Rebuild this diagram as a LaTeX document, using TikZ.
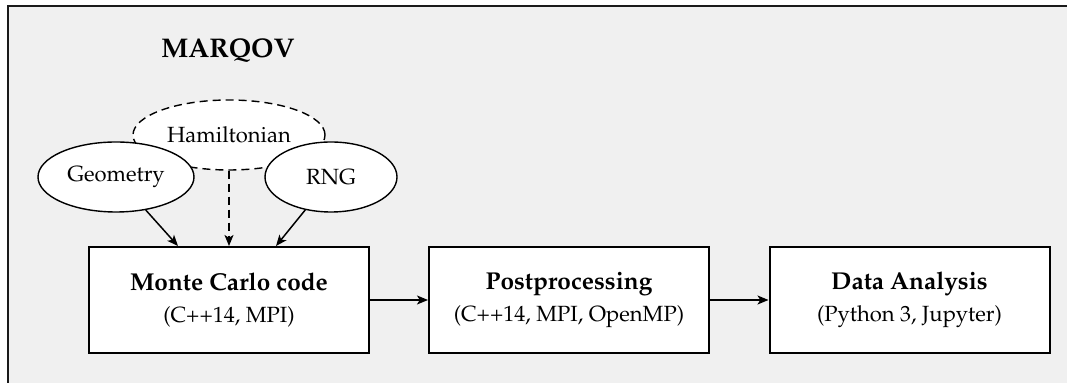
\documentclass[tikz,border=0pt]{standalone}
\usepackage[T1]{fontenc}
\usepackage{mathpazo}
\usetikzlibrary{shapes.geometric,arrows.meta,calc}
\definecolor{bggray}{HTML}{F0F0F0}
\definecolor{framegray}{HTML}{1A1A1A}
\tikzset{
  every node/.style={font=\fontsize{11}{13}\selectfont},
  ell/.style={ellipse,draw=black,fill=white,line width=0.7pt,inner sep=0pt,minimum height=35pt},
  stagebox/.style={rectangle,draw=black,fill=white,line width=1pt,minimum width=140pt,minimum height=53pt,align=center,inner sep=0pt},
  conn/.style={line width=0.75pt,-{Stealth[length=5.5pt,width=4.5pt,inset=1.4pt]}},
  dashconn/.style={conn,dash pattern=on 4pt off 2.5pt},
}
\newcommand{\ttl}[1]{{\fontsize{12.2}{14}\selectfont\bfseries #1}}
\begin{document}
\begin{tikzpicture}[x=0.5pt,y=-0.5pt]
\useasboundingbox (0,0) rectangle (1067,383);
\clip (0,0) rectangle (1067,383);
\fill[white] (0,0) rectangle (1067,383);
\draw[fill=bggray,draw=framegray,line width=0.7pt] (8,6) rectangle (1090,400);
\node (marqov) at (228,51) {\fontsize{13.5}{16}\selectfont\bfseries MARQOV};
\node[ell,dash pattern=on 4pt off 2.5pt,minimum width=96pt] (ham) at (229,135) {Hamiltonian};
\node[ell,minimum width=78pt] (geo) at (116,177) {Geometry};
\node[ell,minimum width=66pt] (rng) at (331,177) {RNG};
\node[stagebox] (mc) at (229,300) {\ttl{Monte Carlo code}\\[3pt](C++14, MPI)};
\node[stagebox] (pp) at (569,300) {\ttl{Postprocessing}\\[3pt](C++14, MPI, OpenMP)};
\node[stagebox] (da) at (909.5,300) {\ttl{Data Analysis}\\[3pt](Python 3, Jupyter)};
\draw[conn] (geo.-48) -- ($(mc.north)+(-25.5pt,0)$);
\draw[conn] (rng.-128) -- ($(mc.north)+(23.5pt,0)$);
\draw[dashconn] (ham.south) -- (mc.north);
\draw[conn] (mc) -- (pp);
\draw[conn] (pp) -- (da);
\end{tikzpicture}
\end{document}
